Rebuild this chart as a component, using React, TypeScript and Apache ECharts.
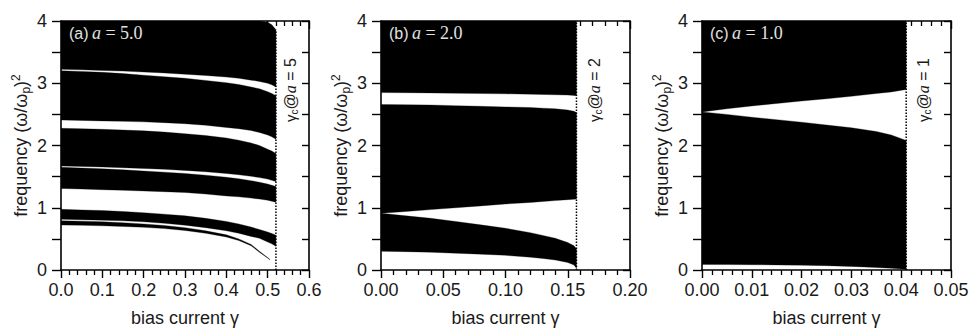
import React, { useEffect, useRef } from "react";
import * as echarts from "echarts";

// ---------- axes / panels ----------
const xMaxes = [0.6, 0.2, 0.05];
const xIntervals = [0.1, 0.05, 0.01];
const xDecimals = [1, 2, 2];
const yMin = 0;
const yMax = 4;
const yInterval = 1;
const criticalGamma = [0.52, 0.157, 0.041];
const criticalTop = [3.86, 4, 4];
const panelLetters = ["(a)", "(b)", "(c)"];
const aValues = ["5.0", "2.0", "1.0"];
const aShort = ["5", "2", "1"];

// ---------- panel (a), a = 5.0 ----------
const gammaA = [0, 0.05, 0.1, 0.15, 0.2, 0.25, 0.3, 0.35, 0.4, 0.43, 0.46, 0.48, 0.5, 0.51, 0.52];
const a1Hi = [4, 4, 4, 4, 4, 4, 4, 4, 4, 4, 4, 4, 3.98, 3.94, 3.86];
const a1Lo = [3.224, 3.216, 3.205, 3.195, 3.18, 3.165, 3.145, 3.125, 3.1, 3.08, 3.05, 3.03, 3.0, 2.975, 2.94];
const a2Hi = [3.202, 3.19, 3.175, 3.155, 3.13, 3.105, 3.08, 3.045, 3.01, 2.98, 2.94, 2.91, 2.865, 2.835, 2.8];
const a2Lo = [2.41, 2.403, 2.395, 2.388, 2.38, 2.367, 2.35, 2.325, 2.29, 2.27, 2.24, 2.21, 2.17, 2.14, 2.1];
const a3Hi = [2.276, 2.27, 2.26, 2.248, 2.235, 2.215, 2.19, 2.16, 2.12, 2.085, 2.04, 2.0, 1.94, 1.91, 1.87];
const a3Lo = [1.67, 1.663, 1.655, 1.643, 1.63, 1.617, 1.6, 1.578, 1.55, 1.53, 1.505, 1.485, 1.46, 1.44, 1.42];
const a4Hi = [1.65, 1.638, 1.625, 1.61, 1.59, 1.572, 1.55, 1.523, 1.49, 1.465, 1.435, 1.41, 1.38, 1.36, 1.34];
const a4Lo = [1.31, 1.3, 1.29, 1.28, 1.27, 1.258, 1.245, 1.22, 1.19, 1.175, 1.155, 1.14, 1.12, 1.105, 1.09];
const a5Hi = [0.975, 0.965, 0.955, 0.94, 0.92, 0.897, 0.87, 0.83, 0.78, 0.74, 0.69, 0.65, 0.61, 0.585, 0.56];
const a5Lo = [0.815, 0.808, 0.8, 0.79, 0.775, 0.75, 0.72, 0.68, 0.63, 0.59, 0.54, 0.51, 0.45, 0.42, 0.38];
const gammaA6 = [0, 0.05, 0.1, 0.15, 0.2, 0.25, 0.3, 0.35, 0.4, 0.43, 0.46, 0.48, 0.5, 0.505];
const a6Hi = [0.79, 0.785, 0.775, 0.76, 0.74, 0.715, 0.68, 0.63, 0.565, 0.5, 0.41, 0.3, 0.2, 0.172];
const a6Lo = [0.723, 0.718, 0.71, 0.7, 0.685, 0.665, 0.635, 0.59, 0.53, 0.475, 0.39, 0.285, 0.192, 0.165];

// ---------- panel (b), a = 2.0 ----------
const gammaB = [0, 0.02, 0.04, 0.06, 0.08, 0.1, 0.12, 0.13, 0.14, 0.15, 0.155, 0.157];
const b1Hi = [4, 4, 4, 4, 4, 4, 4, 4, 4, 4, 4, 4];
const b1Lo = [2.85, 2.848, 2.845, 2.84, 2.835, 2.83, 2.825, 2.82, 2.815, 2.81, 2.805, 2.8];
const b2Hi = [2.66, 2.655, 2.65, 2.64, 2.63, 2.62, 2.61, 2.6, 2.59, 2.57, 2.55, 2.53];
const b2Lo = [0.91, 0.94, 0.97, 1.0, 1.03, 1.06, 1.085, 1.1, 1.115, 1.13, 1.135, 1.14];
const b3Hi = [0.91, 0.87, 0.83, 0.78, 0.725, 0.67, 0.6, 0.555, 0.51, 0.44, 0.39, 0.34];
const b3Lo = [0.3, 0.295, 0.285, 0.27, 0.255, 0.235, 0.205, 0.185, 0.16, 0.12, 0.08, 0.03];

// ---------- panel (c), a = 1.0 ----------
const gammaC = [0, 0.005, 0.01, 0.015, 0.02, 0.025, 0.03, 0.035, 0.038, 0.041];
const c1Hi = [4, 4, 4, 4, 4, 4, 4, 4, 4, 4];
const c1Lo = [2.54, 2.59, 2.635, 2.675, 2.715, 2.75, 2.79, 2.835, 2.86, 2.9];
const c2Hi = [2.54, 2.5, 2.455, 2.415, 2.375, 2.33, 2.285, 2.225, 2.17, 2.08];
const c2Lo = [0.09, 0.088, 0.085, 0.082, 0.078, 0.07, 0.058, 0.04, 0.028, 0.012];

type Band = { g: number[]; hi: number[]; lo: number[] };

const bandsA: Band[] = [
  { g: gammaA, hi: a1Hi, lo: a1Lo },
  { g: gammaA, hi: a2Hi, lo: a2Lo },
  { g: gammaA, hi: a3Hi, lo: a3Lo },
  { g: gammaA, hi: a4Hi, lo: a4Lo },
  { g: gammaA, hi: a5Hi, lo: a5Lo },
  { g: gammaA6, hi: a6Hi, lo: a6Lo },
];
const bandsB: Band[] = [
  { g: gammaB, hi: b1Hi, lo: b1Lo },
  { g: gammaB, hi: b2Hi, lo: b2Lo },
  { g: gammaB, hi: b3Hi, lo: b3Lo },
];
const bandsC: Band[] = [
  { g: gammaC, hi: c1Hi, lo: c1Lo },
  { g: gammaC, hi: c2Hi, lo: c2Lo },
];
const panelBands = [bandsA, bandsB, bandsC];

// ---------- layout ----------
const gridLefts = [61, 381, 702];
const gridWidths = [248, 249, 249];
const gridTop = 21;
const gridHeight = 249;

const SANS = "Liberation Sans, Arial, Helvetica, sans-serif";
const SERIF = "Liberation Serif, Times New Roman, serif";
const TXT = "#1a1a1a";

function buildOption() {
  const grids: any[] = [];
  const xAxes: any[] = [];
  const yAxes: any[] = [];
  const series: any[] = [];
  const graphics: any[] = [];

  for (let i = 0; i < 3; i++) {
    grids.push({
      left: gridLefts[i],
      top: gridTop,
      width: gridWidths[i],
      height: gridHeight,
      show: false,
      containLabel: false,
      outerBoundsMode: "none",
    });
    const axisLine = { show: true, onZero: false, lineStyle: { color: "#000", width: 1.6 } };
    const dec = xDecimals[i];
    xAxes.push({
      type: "value",
      gridIndex: i,
      position: "bottom",
      min: 0,
      max: xMaxes[i],
      interval: xIntervals[i],
      axisLine,
      axisTick: { show: true, inside: false, length: 8, lineStyle: { color: "#000", width: 1.4 } },
      minorTick: { show: true, splitNumber: 5, length: 5, lineStyle: { color: "#000", width: 1.3 } },
      splitLine: { show: false },
      minorSplitLine: { show: false },
      axisLabel: {
        show: true,
        margin: 11,
        fontSize: 18,
        fontFamily: SANS,
        color: TXT,
        showMinLabel: true,
        showMaxLabel: true,
        formatter: (v: number) => v.toFixed(dec),
      },
      name: "bias current γ",
      nameLocation: "middle",
      nameGap: 39,
      nameTextStyle: { fontSize: 18, fontFamily: SANS, color: TXT },
    });
    xAxes.push({
      type: "value",
      gridIndex: i,
      position: "top",
      min: 0,
      max: xMaxes[i],
      interval: xIntervals[i],
      axisLine,
      axisTick: { show: true, inside: true, length: 8, lineStyle: { color: "#000", width: 1.4 } },
      minorTick: { show: true, splitNumber: 5, length: 5, lineStyle: { color: "#000", width: 1.3 } },
      splitLine: { show: false },
      minorSplitLine: { show: false },
      axisLabel: { show: false },
    });
    yAxes.push({
      type: "value",
      gridIndex: i,
      position: "left",
      min: yMin,
      max: yMax,
      interval: yInterval,
      axisLine,
      axisTick: { show: true, inside: false, length: 9, lineStyle: { color: "#000", width: 1.4 } },
      minorTick: { show: true, splitNumber: 2, length: 9, lineStyle: { color: "#000", width: 1.4 } },
      splitLine: { show: false },
      minorSplitLine: { show: false },
      axisLabel: { show: true, margin: 14, fontSize: 18, fontFamily: SANS, color: TXT },
      name: "{n|frequency (ω/ω}{sub|p}{n|)}{sup|2}",
      nameLocation: "middle",
      nameGap: 29,
      nameTextStyle: {
        fontSize: 18,
        fontFamily: SANS,
        color: TXT,
        rich: {
          n: { fontSize: 18, fontFamily: SANS, color: TXT, lineHeight: 22 },
          sub: { fontSize: 12, fontFamily: SANS, color: TXT, verticalAlign: "bottom", lineHeight: 12 },
          sup: { fontSize: 12, fontFamily: SANS, color: TXT, verticalAlign: "top", lineHeight: 12 },
        },
      },
    });
    yAxes.push({
      type: "value",
      gridIndex: i,
      position: "right",
      min: yMin,
      max: yMax,
      interval: yInterval,
      axisLine,
      axisTick: { show: true, inside: true, length: 7, lineStyle: { color: "#000", width: 1.4 } },
      minorTick: { show: true, splitNumber: 2, length: 7, lineStyle: { color: "#000", width: 1.4 } },
      splitLine: { show: false },
      minorSplitLine: { show: false },
      axisLabel: { show: false },
    });

    const bands = panelBands[i];
    series.push({
      type: "custom",
      coordinateSystem: "cartesian2d",
      xAxisIndex: 2 * i,
      yAxisIndex: 2 * i,
      clip: true,
      silent: true,
      z: 2,
      data: bands.map((b, k) => [b.g[0], b.lo[0], k]),
      renderItem: (params: any, api: any) => {
        const b = bands[params.dataIndex];
        const pts: number[][] = [];
        for (let k = 0; k < b.g.length; k++) pts.push(api.coord([b.g[k], b.hi[k]]));
        for (let k = b.g.length - 1; k >= 0; k--) pts.push(api.coord([b.g[k], b.lo[k]]));
        return { type: "polygon", shape: { points: pts }, style: { fill: "#000", stroke: "#000", lineWidth: 0.3 } };
      },
    });
    series.push({
      type: "line",
      xAxisIndex: 2 * i,
      yAxisIndex: 2 * i,
      symbol: "none",
      silent: true,
      z: 4,
      data: [
        [criticalGamma[i], 0],
        [criticalGamma[i], criticalTop[i]],
      ],
      lineStyle: { color: "#000", width: 1.5, type: [1.5, 1.5] },
    });

    // panel label
    graphics.push({
      type: "text",
      x: gridLefts[i] + 8,
      y: 33,
      z: 10,
      style: {
        text: `{p|${panelLetters[i]}} {it|a}{s| = ${aValues[i]}}`,
        verticalAlign: "middle",
        align: "left",
        rich: {
          p: { fontSize: 16, fontFamily: SANS, fill: "#e2e2e2" },
          it: { fontSize: 18, fontFamily: SERIF, fontStyle: "italic", fill: "#e2e2e2" },
          s: { fontSize: 18, fontFamily: SERIF, fill: "#e2e2e2" },
        },
      },
    });
    // critical current label (vertical)
    const vx = [290, 594, 923][i];
    graphics.push({
      type: "text",
      x: vx,
      y: 90,
      rotation: Math.PI / 2,
      z: 10,
      style: {
        text: `{g|γ}{c|c}{at|@}{it|a}{n| = ${aShort[i]}}`,
        align: "center",
        verticalAlign: "middle",
        rich: {
          g: { fontSize: 15, fontFamily: SANS, fill: TXT, lineHeight: 19 },
          c: { fontSize: 10, fontFamily: SANS, fill: TXT, verticalAlign: "bottom", lineHeight: 10 },
          at: { fontSize: 16, fontFamily: SANS, fill: TXT, lineHeight: 19 },
          it: { fontSize: 16, fontFamily: SERIF, fontStyle: "italic", fill: TXT, lineHeight: 19 },
          n: { fontSize: 16, fontFamily: SANS, fill: TXT, lineHeight: 19 },
        },
      },
    });
  }

  return {
    animation: false,
    backgroundColor: "#ffffff",
    grid: grids,
    xAxis: xAxes,
    yAxis: yAxes,
    series,
    graphic: graphics,
  };
}

export default function App() {
  const ref = useRef<HTMLDivElement>(null);
  useEffect(() => {
    document.body.style.margin = "0";
    if (!ref.current) return;
    const chart = echarts.init(ref.current, undefined, { renderer: "svg" });
    chart.setOption(buildOption() as any);
    return () => chart.dispose();
  }, []);
  return <div ref={ref} style={{ width: 969, height: 332 }} />;
}
